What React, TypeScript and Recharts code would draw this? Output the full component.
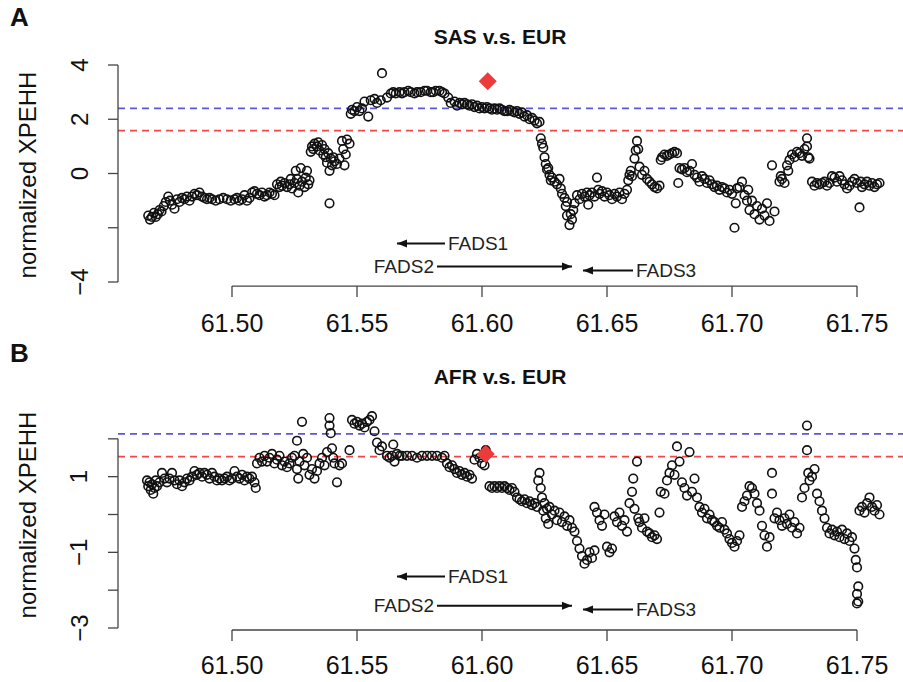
import React from "react";
import {
  ScatterChart,
  Scatter,
  XAxis,
  YAxis,
  ReferenceLine,
} from "recharts";

// genomic position (Mb) vs normalized XPEHH
const sasPoints: [number, number][] = [
  [61.4665,-1.55],[61.4672,-1.7],[61.468,-1.6],[61.4688,-1.45],[61.4695,-1.6],[61.4703,-1.5],[61.471,-1.35],[61.4718,-1.4],[61.4727,-1.2],[61.4735,-1.05],[61.4745,-0.85],[61.4752,-1.0],[61.476,-1.15],[61.477,-1.3],[61.478,-0.95],[61.479,-1.05],[61.48,-0.9],[61.481,-0.95],[61.482,-0.85],[61.483,-1.0],[61.484,-0.85],[61.485,-0.75],[61.486,-0.8],[61.487,-0.7],[61.488,-0.85],[61.489,-0.9],[61.49,-0.95],[61.491,-0.9],[61.492,-0.95],[61.4935,-1.0],[61.495,-0.95],[61.4965,-0.9],[61.498,-0.95],[61.4995,-1.0],[61.501,-0.95],[61.502,-0.9],[61.503,-1.0],[61.504,-0.95],[61.505,-0.8],[61.506,-1.0],[61.507,-0.9],[61.508,-0.7],[61.509,-0.65],[61.51,-0.75],[61.511,-0.8],[61.512,-0.7],[61.513,-0.85],[61.514,-0.8],[61.515,-0.7],[61.516,-0.75],[61.517,-0.8],
  [61.518,-0.4],[61.519,-0.5],[61.5195,-0.3],[61.52,-0.45],[61.521,-0.35],[61.522,-0.5],[61.523,-0.4],[61.5235,-0.2],[61.524,-0.55],[61.525,-0.35],[61.5255,0.1],[61.526,-0.2],[61.5265,-0.7],[61.527,-0.45],[61.5275,0.2],[61.528,-0.3],[61.529,-0.5],[61.5295,-0.15],[61.53,0.1],[61.5305,-0.4],[61.531,-0.25],
  [61.5315,0.8],[61.532,1.0],[61.5325,0.9],[61.533,1.1],[61.534,1.0],[61.5345,1.15],[61.535,0.85],[61.536,1.05],[61.5365,0.7],[61.537,0.9],[61.5375,0.6],[61.538,0.4],[61.5385,0.75],[61.539,0.1],[61.539,-1.1],[61.5395,0.55],[61.54,0.3],[61.5405,0.6],[61.541,0.45],[61.542,0.35],[61.543,0.55],[61.544,1.2],[61.5445,0.9],[61.545,0.3],[61.5455,0.7],[61.546,1.25],[61.547,1.1],
  [61.5475,2.2],[61.548,2.35],[61.549,2.3],[61.55,2.45],[61.551,2.3],[61.552,2.4],[61.553,2.65],[61.5545,2.1],[61.5555,2.7],[61.557,2.75],[61.558,2.6],[61.5595,2.7],[61.56,3.7],[61.562,2.8],
  [61.5635,2.95],[61.5645,3.0],[61.5655,2.95],[61.567,3.0],[61.568,2.95],[61.569,3.0],[61.5705,3.05],[61.5715,3.0],[61.573,2.95],[61.574,3.0],[61.5755,3.0],[61.577,3.05],[61.578,3.05],[61.5795,3.0],[61.5805,3.0],[61.5815,3.05],[61.583,3.05],[61.584,3.0],[61.585,2.95],[61.5865,2.8],[61.5875,2.6],[61.589,2.65],[61.59,2.5],
  [61.591,2.6],[61.592,2.55],[61.593,2.6],[61.594,2.55],[61.595,2.5],[61.596,2.55],[61.597,2.45],[61.598,2.5],[61.599,2.4],[61.6,2.45],[61.601,2.4],[61.602,2.45],[61.603,2.4],[61.604,2.35],[61.605,2.4],[61.606,2.35],[61.607,2.4],[61.608,2.35],[61.609,2.3],[61.61,2.3],[61.611,2.35],[61.612,2.3],[61.613,2.25],[61.614,2.3],[61.615,2.2],[61.616,2.25],[61.617,2.1],[61.618,2.15],[61.619,2.0],[61.62,2.05],[61.621,1.95],[61.622,1.85],[61.623,1.9],
  [61.6235,1.3],[61.624,1.1],[61.6245,0.95],[61.625,0.6],[61.6255,0.35],[61.626,0.15],[61.6265,0.2],[61.627,-0.05],[61.6275,-0.25],[61.628,-0.15],[61.629,-0.3],[61.63,-0.4],[61.631,-0.2],[61.6315,-0.55],[61.632,-0.75],[61.633,-0.9],[61.6335,-1.2],[61.634,-1.05],[61.634,-1.55],[61.635,-1.9],[61.6355,-1.5],[61.636,-1.7],[61.6365,-1.35],[61.637,-1.1],
  [61.638,-0.8],[61.639,-0.95],[61.64,-0.75],[61.641,-0.85],[61.642,-0.7],[61.6425,-1.15],[61.643,-0.8],[61.644,-0.7],[61.645,-0.85],[61.646,-0.15],[61.6465,-0.6],[61.647,-0.75],[61.648,-0.65],[61.649,-0.85],[61.65,-0.7],[61.651,-0.8],[61.652,-0.95],[61.653,-0.75],[61.654,-0.85],[61.655,-0.7],[61.656,-0.95],[61.657,-0.75],[61.658,-0.6],
  [61.6585,-0.25],[61.659,-0.05],[61.6595,0.1],[61.66,-0.1],[61.661,0.55],[61.6615,0.85],[61.662,1.2],[61.6625,0.9],[61.663,0.25],[61.664,-0.05],[61.665,0.1],
  [61.666,-0.2],[61.667,-0.3],[61.668,-0.4],[61.669,-0.5],[61.67,-0.55],[61.671,-0.45],
  [61.6715,0.5],[61.672,0.6],[61.673,0.7],[61.674,0.65],[61.675,0.7],[61.676,0.75],[61.677,0.8],[61.678,0.75],
  [61.6785,-0.35],[61.679,0.2],[61.68,0.15],[61.681,0.2],[61.682,0.05],[61.683,0.1],[61.684,0.35],[61.685,-0.05],[61.686,-0.15],[61.687,-0.3],[61.688,-0.1],[61.689,-0.2],[61.69,-0.35],[61.691,-0.25],[61.692,-0.4],[61.693,-0.5],[61.694,-0.45],[61.695,-0.6],[61.696,-0.5],[61.697,-0.55],[61.698,-0.7],[61.699,-0.6],[61.7,-0.75],[61.701,-2.0],[61.7015,-1.1],[61.702,-0.55],
  [61.703,-0.5],[61.704,-0.3],[61.705,-0.8],[61.706,-1.0],[61.7065,-0.6],[61.707,-1.35],[61.708,-1.0],[61.709,-1.5],[61.71,-1.2],[61.711,-1.7],[61.712,-1.3],[61.713,-1.55],[61.714,-1.1],[61.715,-1.75],[61.716,0.3],[61.717,-1.4],
  [61.719,-0.3],[61.7195,-0.1],[61.72,-0.2],[61.721,-0.35],[61.722,0.3],[61.7225,0.1],[61.723,0.5],[61.724,0.7],[61.725,0.6],[61.726,0.8],[61.727,0.75],[61.728,0.65],[61.729,0.9],[61.73,1.3],[61.73,1.0],[61.7305,0.6],[61.731,0.55],
  [61.732,-0.3],[61.733,-0.45],[61.734,-0.35],[61.735,-0.4],[61.736,-0.35],[61.737,-0.3],[61.738,-0.45],[61.739,-0.35],[61.74,-0.1],[61.741,-0.15],[61.742,-0.3],[61.743,-0.1],[61.744,-0.25],[61.745,-0.4],[61.746,-0.55],[61.747,-0.45],[61.748,-0.3],[61.749,-0.2],[61.75,-0.35],[61.751,-1.25],[61.7515,-0.3],[61.752,-0.5],[61.753,-0.4],[61.754,-0.3],[61.755,-0.45],[61.756,-0.35],[61.757,-0.5],[61.758,-0.4],[61.759,-0.35],
];

const afrPoints: [number, number][] = [
  [61.466,0.9],[61.4665,0.75],[61.467,0.85],[61.4675,0.65],[61.468,0.8],[61.4685,0.55],[61.469,0.7],[61.4695,0.9],[61.47,0.75],[61.471,0.85],[61.472,1.1],[61.473,0.95],[61.474,0.85],[61.475,0.95],[61.476,1.1],[61.477,0.9],[61.478,0.8],[61.479,0.9],[61.48,0.75],[61.481,0.85],[61.482,0.95],[61.483,0.9],[61.484,1.0],[61.485,1.15],[61.486,1.05],[61.487,1.1],[61.488,1.0],[61.489,1.1],[61.49,1.05],[61.491,0.95],[61.492,1.1],[61.493,1.0],[61.494,0.9],[61.495,0.95],[61.496,0.9],[61.497,0.95],[61.498,1.0],[61.499,0.9],[61.5,0.95],[61.501,1.15],[61.502,1.0],[61.503,0.95],[61.504,1.05],[61.505,0.9],[61.506,1.0],[61.507,0.95],[61.508,1.0],[61.509,0.85],[61.5095,0.7],
  [61.51,1.35],[61.511,1.5],[61.512,1.4],[61.513,1.55],[61.514,1.4],[61.515,1.5],[61.516,1.6],[61.517,1.35],[61.518,1.45],[61.519,1.55],[61.52,1.3],[61.521,1.4],[61.522,1.25],[61.523,1.35],[61.524,1.5],[61.525,1.55],[61.526,1.2],[61.526,1.95],[61.5265,0.95],[61.527,1.4],[61.528,2.45],[61.5285,1.6],[61.529,1.3],[61.53,1.5],[61.531,1.05],[61.532,1.2],[61.533,0.95],[61.534,1.15],[61.535,1.35],[61.536,1.5],[61.537,1.3],[61.538,1.65],[61.539,2.55],[61.539,2.35],[61.5395,2.15],[61.54,1.75],[61.5405,1.5],[61.541,1.35],[61.542,0.85],[61.543,1.3],[61.544,1.35],[61.547,1.7],
  [61.548,2.5],[61.549,2.4],[61.55,2.45],[61.551,2.35],[61.552,2.4],[61.553,2.3],[61.554,2.45],[61.555,2.5],[61.556,2.6],[61.557,2.2],[61.558,1.9],[61.559,1.7],[61.56,1.8],
  [61.562,1.55],[61.563,1.5],[61.564,1.55],[61.5645,1.85],[61.565,1.4],[61.566,1.6],[61.567,1.55],[61.568,1.55],[61.57,1.55],[61.572,1.55],[61.574,1.5],[61.576,1.55],[61.578,1.55],[61.58,1.55],[61.582,1.55],[61.584,1.5],[61.585,1.55],
  [61.586,1.35],[61.587,1.25],[61.588,1.3],[61.589,1.2],[61.59,1.1],[61.591,1.15],[61.592,1.05],[61.593,1.1],[61.594,1.0],[61.595,1.05],[61.596,0.95],
  [61.597,1.45],[61.598,1.6],[61.599,1.5],[61.6,1.35],[61.601,1.3],[61.6015,1.7],
  [61.603,0.75],[61.604,0.7],[61.605,0.75],[61.606,0.7],[61.607,0.75],[61.608,0.7],[61.609,0.75],[61.61,0.7],[61.611,0.65],[61.612,0.7],[61.613,0.6],[61.614,0.45],[61.615,0.4],[61.616,0.35],[61.617,0.4],[61.618,0.3],[61.619,0.35],[61.62,0.25],[61.621,0.3],
  [61.622,0.2],[61.6225,0.9],[61.623,1.1],[61.6235,0.7],[61.624,0.45],[61.6245,0.1],[61.625,0.3],[61.6255,-0.1],[61.626,0.15],[61.6265,-0.25],
  [61.627,0.2],[61.628,0.0],[61.629,0.1],[61.63,-0.15],[61.631,0.05],[61.632,-0.2],[61.633,-0.05],[61.634,-0.3],[61.635,-0.15],[61.636,-0.35],[61.637,-0.45],
  [61.638,-0.7],[61.639,-0.9],[61.64,-1.1],[61.641,-1.3],[61.642,-1.2],[61.643,-1.0],[61.644,-1.15],[61.645,-0.95],[61.645,0.2],[61.646,0.05],[61.647,-0.15],[61.648,-0.3],[61.649,0.0],[61.65,-0.85],[61.651,-1.0],[61.652,-0.9],
  [61.653,-0.05],[61.654,-0.2],[61.655,0.05],[61.656,-0.3],[61.657,-0.15],[61.658,-0.45],[61.659,0.3],[61.66,0.6],[61.6605,0.95],[61.661,0.15],[61.662,1.4],[61.6625,-0.1],
  [61.663,-0.2],[61.664,-0.35],[61.665,-0.1],[61.666,-0.45],[61.667,-0.5],[61.668,-0.6],[61.669,-0.55],[61.67,-0.65],[61.671,0.05],[61.6715,0.6],
  [61.673,0.55],[61.674,0.9],[61.675,1.1],[61.676,1.3],[61.677,1.05],[61.678,1.8],[61.679,1.4],[61.68,0.85],[61.681,0.7],[61.682,0.5],[61.683,1.65],[61.684,0.6],[61.685,0.95],[61.686,0.45],
  [61.687,0.2],[61.688,0.05],[61.689,0.15],[61.69,-0.1],[61.691,0.0],[61.692,-0.15],[61.693,-0.2],[61.694,-0.3],[61.695,-0.35],[61.696,-0.2],[61.697,-0.4],[61.698,-0.5],[61.699,-0.65],[61.7,-0.75],[61.701,-0.85],[61.702,-0.7],[61.703,-0.55],
  [61.704,0.2],[61.705,0.35],[61.706,0.5],[61.707,0.75],[61.708,0.7],[61.709,0.55],[61.71,0.3],[61.711,0.1],
  [61.712,-0.3],[61.713,-0.55],[61.714,-0.85],[61.715,-0.6],[61.716,1.1],[61.716,0.55],[61.717,-0.1],
  [61.718,0.05],[61.719,-0.15],[61.72,-0.3],[61.721,-0.1],[61.722,-0.25],[61.723,0.0],[61.724,-0.35],[61.725,-0.2],[61.726,-0.5],[61.727,-0.35],
  [61.728,0.45],[61.729,0.7],[61.73,2.35],[61.73,1.7],[61.7305,1.1],[61.731,0.9],[61.732,1.0],[61.733,1.2],[61.734,0.55],[61.735,0.35],[61.736,0.1],[61.737,-0.1],
  [61.738,-0.35],[61.739,-0.5],[61.74,-0.4],[61.741,-0.55],[61.742,-0.45],[61.743,-0.6],[61.744,-0.4],[61.745,-0.65],[61.746,-0.5],[61.747,-0.7],[61.748,-0.6],[61.749,-0.9],
  [61.7495,-1.2],[61.75,-1.4],[61.7505,-1.9],[61.75,-2.1],[61.7505,-2.3],[61.75,-2.35],
  [61.751,0.1],[61.752,0.2],[61.753,0.05],[61.754,0.3],[61.755,0.45],[61.756,0.2],[61.757,0.1],[61.758,0.25],[61.759,0.0],
];

// lead SNP (red diamond)
const sasLead = [{ x: 61.6023, y: 3.4 }];
const afrLead = [{ x: 61.6015, y: 1.6 }];

// thresholds
const sasBlue = 2.4;
const sasRed = 1.58;
const afrBlue = 2.13;
const afrRed = 1.53;

const xTicks = [61.5, 61.55, 61.6, 61.65, 61.7, 61.75];
const sasYTicks = [-4, -2, 0, 2, 4];
const sasYLabels = [-4, 0, 2, 4];
const afrYTicks = [-3, -2, -1, 0, 1, 2];
const afrYLabels = [-3, -1, 1];

// genes: name, tail, head (Mb)
const genes = [
  { name: "FADS1", tail: 61.5852, head: 61.566 },
  { name: "FADS2", tail: 61.582, head: 61.636 },
  { name: "FADS3", tail: 61.6604, head: 61.6404 },
];
const sasGeneY = [-2.58, -3.43, -3.58];
const afrGeneY = [-1.64, -2.41, -2.51];

const X_DOMAIN: [number, number] = [61.4544, 61.7684];
const FONT = "'Liberation Sans', Arial, sans-serif";
const AXIS = "#444";

const Ring = (p: any) => (
  <circle cx={p.cx} cy={p.cy} r={4.3} fill="none" stroke="#111" strokeWidth={1.6} />
);

const Diamond = (p: any) => (
  <polygon
    points={`${p.cx},${p.cy - 9} ${p.cx + 9},${p.cy} ${p.cx},${p.cy + 9} ${p.cx - 9},${p.cy}`}
    fill="#ec3b3b"
  />
);

const GeneArrow = (name: string) => (p: any) => {
  const { x1, y1, x2, y2 } = p;
  const dir = x2 > x1 ? 1 : -1;
  const tx = dir < 0 ? x1 + 3 : x1 - 3;
  return (
    <g>
      <line x1={x1} y1={y1} x2={x2} y2={y2} stroke="#111" strokeWidth={2} />
      <polygon
        points={`${x2},${y2} ${x2 - dir * 10},${y2 - 4} ${x2 - dir * 10},${y2 + 4}`}
        fill="#111"
      />
      <text
        x={tx}
        y={y1}
        dominantBaseline="central"
        textAnchor={dir < 0 ? "start" : "end"}
        fontSize={19}
        fontFamily={FONT}
        fill="#222"
      >
        {name}
      </text>
    </g>
  );
};

type PanelProps = {
  points: [number, number][];
  lead: { x: number; y: number }[];
  blue: number;
  red: number;
  yDomain: [number, number];
  yTicks: number[];
  yLabels: number[];
  yAxisTop: number;
  xAxisAt: number;
  geneY: number[];
  top: number;
  bottom: number;
  axisPx: number;
  labelPx: number;
};

function Panel(props: PanelProps) {
  const data = props.points.map(([x, y]) => ({ x, y }));
  const XTick = (p: any) => (
    <g>
      <line x1={p.x} x2={p.x} y1={props.axisPx} y2={props.axisPx + 11} stroke={AXIS} strokeWidth={1.3} />
      <text x={p.x} y={props.labelPx} textAnchor="middle" dominantBaseline="central" fontSize={25} fontFamily={FONT} fill="#111">
        {p.payload.value.toFixed(2)}
      </text>
    </g>
  );
  const YTick = (p: any) =>
    props.yLabels.includes(p.payload.value) ? (
      <text
        x={79}
        y={p.y}
        transform={`rotate(-90 79 ${p.y})`}
        textAnchor="middle"
        dominantBaseline="central"
        fontSize={24}
        fontFamily={FONT}
        fill="#111"
      >
        {p.payload.value < 0 ? `\u2212${-p.payload.value}` : p.payload.value}
      </text>
    ) : (
      <g />
    );
  return (
    <ScatterChart
      width={903}
      height={341}
      margin={{ top: props.top, right: 0, bottom: 0, left: 0 }}
    >
      <XAxis
        type="number"
        dataKey="x"
        domain={X_DOMAIN}
        ticks={xTicks}
        allowDataOverflow
        axisLine={false}
        tickLine={false}
        height={props.bottom}
        tick={XTick}
        interval={0}
      />
      <YAxis
        type="number"
        dataKey="y"
        domain={props.yDomain}
        ticks={props.yTicks}
        allowDataOverflow
        axisLine={false}
        tickLine={{ stroke: AXIS, strokeWidth: 1.3 }}
        tickSize={10}
        width={118}
        tick={YTick}
        interval={0}
      />
      <ReferenceLine y={props.blue} stroke="#5a5ad6" strokeWidth={1.6} strokeDasharray="7 5" />
      <ReferenceLine y={props.red} stroke="#f04848" strokeWidth={1.6} strokeDasharray="7 5" />
      <ReferenceLine
        segment={[{ x: X_DOMAIN[0], y: props.yAxisTop }, { x: X_DOMAIN[0], y: props.yDomain[0] }]}
        stroke={AXIS}
        strokeWidth={1.3}
        ifOverflow="visible"
      />
      <ReferenceLine
        segment={[{ x: xTicks[0], y: props.xAxisAt }, { x: xTicks[xTicks.length - 1], y: props.xAxisAt }]}
        stroke={AXIS}
        strokeWidth={1.3}
        ifOverflow="visible"
      />
      {genes.map((g, i) => (
        <ReferenceLine
          key={g.name}
          segment={[{ x: g.tail, y: props.geneY[i] }, { x: g.head, y: props.geneY[i] }]}
          shape={GeneArrow(g.name)}
          ifOverflow="visible"
        />
      ))}
      <Scatter data={data} shape={Ring} isAnimationActive={false} />
      <Scatter data={props.lead} shape={Diamond} isAnimationActive={false} />
    </ScatterChart>
  );
}

const titleStyle: React.CSSProperties = {
  position: "absolute",
  left: 0,
  width: 1000,
  textAlign: "center",
  fontFamily: FONT,
  fontWeight: "bold",
  fontSize: 21,
  color: "#111",
};
const letterStyle: React.CSSProperties = {
  position: "absolute",
  left: 10,
  fontFamily: FONT,
  fontWeight: "bold",
  fontSize: 26,
  color: "#111",
};
const yLabelStyle: React.CSSProperties = {
  position: "absolute",
  left: 28,
  width: 300,
  marginLeft: -150,
  textAlign: "center",
  fontFamily: FONT,
  fontSize: 24,
  color: "#111",
  transform: "translateY(-50%) rotate(-90deg)",
  whiteSpace: "nowrap",
};

export default function App() {
  return (
    <div style={{ position: "absolute", left: 0, top: 0, width: 903, height: 682, background: "#fff", overflow: "hidden" }}>
      <div style={{ position: "absolute", left: 0, top: 0 }}>
        <Panel
          points={sasPoints}
          lead={sasLead}
          blue={sasBlue}
          red={sasRed}
          yDomain={[-4, 4]}
          yTicks={sasYTicks}
          yLabels={sasYLabels}
          yAxisTop={4}
          xAxisAt={-4.15}
          geneY={sasGeneY}
          top={65}
          bottom={59}
          axisPx={286}
          labelPx={323}
        />
      </div>
      <div style={{ position: "absolute", left: 0, top: 341 }}>
        <Panel
          points={afrPoints}
          lead={afrLead}
          blue={afrBlue}
          red={afrRed}
          yDomain={[-3, 3]}
          yTicks={afrYTicks}
          yLabels={afrYLabels}
          yAxisTop={2}
          xAxisAt={-3.053}
          geneY={afrGeneY}
          top={60}
          bottom={54}
          axisPx={289}
          labelPx={324}
        />
      </div>
      <div style={{ ...letterStyle, top: 2 }}>A</div>
      <div style={{ ...letterStyle, top: 338 }}>B</div>
      <div style={{ ...titleStyle, top: 25 }}>SAS v.s. EUR</div>
      <div style={{ ...titleStyle, top: 365 }}>AFR v.s. EUR</div>
      <div style={{ ...yLabelStyle, top: 175 }}>normalized XPEHH</div>
      <div style={{ ...yLabelStyle, top: 515 }}>normalized XPEHH</div>
    </div>
  );
}
